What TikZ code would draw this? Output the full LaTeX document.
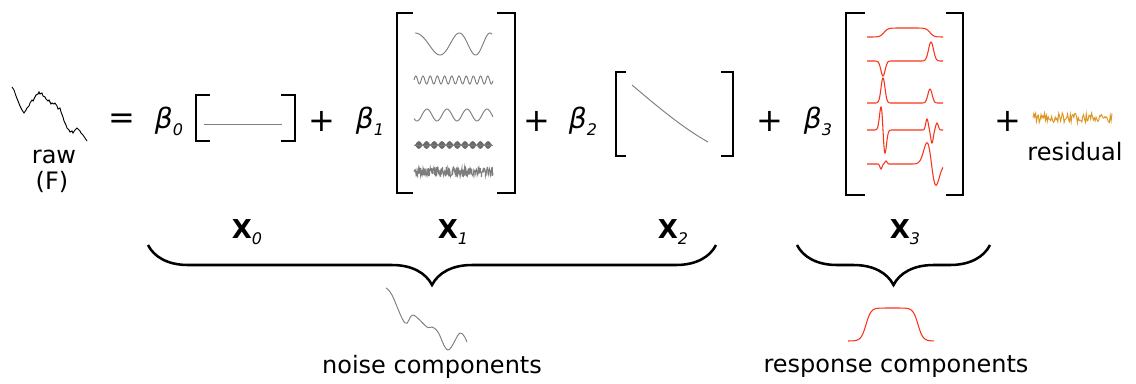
\documentclass[tikz,border=0pt]{standalone}
\usepackage{fontspec}
\setmainfont{DejaVu Sans}
\usepackage{xcolor}
\usetikzlibrary{decorations.pathreplacing}
\definecolor{wavegray}{RGB}{125,125,125}
\definecolor{respred}{RGB}{250,50,25}
\definecolor{residorange}{RGB}{220,150,35}
\newcommand{\subidx}[1]{\raisebox{-0.45ex}{\fontsize{12}{12}\selectfont\mdseries\itshape #1}}

\begin{document}
\begin{tikzpicture}[x=0.75pt,y=-0.75pt,
  txt/.style={font=\fontsize{18}{20}\selectfont},
  oper/.style={font=\fontsize{24}{25}\selectfont},
  coef/.style={font=\fontsize{21}{22}\selectfont\itshape,inner sep=0pt},
  design/.style={font=\fontsize{19.5}{20}\selectfont\bfseries,inner sep=0pt},
  bracket/.style={line width=1.3pt},
  bigbracket/.style={line width=2pt},
  basis/.style={wavegray,line width=0.7pt},
  trace/.style={respred,line width=0.8pt},
  grp/.style={decorate,decoration={brace,mirror,amplitude=30pt},line width=1.9pt},
  declare function={gs(\x,\c,\s)=exp(-min(((\x-\c)/\s)^2,15));
                    sg(\x,\c,\s)=1/(1+exp(-max(min((\x-\c)/\s,9),-9)));}]
 \useasboundingbox (0,0) rectangle (1136,383);

 \draw[line width=0.7pt] (12,87) -- (14,90) -- (16,96) -- (18,101) -- (20,106) -- (22,110) -- (24,113)
   -- (26,110) -- (27,108) -- (29,106) -- (30,103) -- (32,100) -- (33,101) -- (35,97) -- (36,95)
   -- (38,94) -- (39,92) -- (40,94) -- (42,93) -- (43,96) -- (45,97) -- (46,99) -- (48,101)
   -- (49,100) -- (51,104) -- (52,103) -- (54,104) -- (55,103) -- (57,106) -- (58,109) -- (60,108)
   -- (61,112) -- (63,117) -- (64,121) -- (66,125) -- (67,128) -- (69,130) -- (70,132) -- (72,131)
   -- (73,133) -- (75,130) -- (77,128) -- (78,129) -- (80,131) -- (81,133) -- (83,135) -- (85,138) -- (87,141);
 \node[txt] (raw) at (54,157) {raw};
 \node[txt] (rawF) at (52,182) {(F)};

 \node[oper] (eq) at (122,121) {=};
 \node[coef] (b0) at (169,121) {β\subidx{0}};
 \draw[bracket] (210,95) -- (196,95) -- (196,141) -- (210,141);
 \draw[bracket] (281,95) -- (295,95) -- (295,141) -- (281,141);
 \draw[basis] (204,124) -- (282,124);

 \node[oper] (p1) at (322,121) {+};
 \node[coef] (b1) at (370,121) {β\subidx{1}};
 \draw[bigbracket] (413,13) -- (397,13) -- (397,193) -- (413,193);
 \draw[bigbracket] (497,13) -- (515,13) -- (515,193) -- (497,193);
 \draw[basis] plot[domain=415:492,samples=120] (\x,{44-11*cos(6*(\x-415)+0.048*(\x-415)^2)});
 \draw[basis] plot[domain=414:493,samples=200] (\x,{80-4*sin(50*(\x-414))});
 \draw[basis] plot[domain=414:493,samples=150] (\x,{115-6*cos(18*(\x-427))});
 \fill[wavegray!85!black] plot[domain=415:492,samples=150] (\x,{145-3.8*abs(sin(23.4*(\x-415)))})
   -- plot[domain=492:415,samples=150] (\x,{145+3.8*abs(sin(23.4*(\x-415)))}) -- cycle;
 \draw[basis] (414,145) -- (493,145);
 \pgfmathsetseed{11}
 \draw[basis] plot[domain=414:493,samples=220] (\x,{172+5*rand});

 \node[oper] (p2) at (537,121) {+};
 \node[coef] (b2) at (583,121) {β\subidx{2}};
 \draw[bracket] (626,72) -- (616,72) -- (616,156) -- (626,156);
 \draw[bracket] (721,72) -- (733,72) -- (733,156) -- (721,156);
 \draw[basis] (632,85) .. controls (658,107) and (683,128) .. (708,142);

 \node[oper] (p3) at (770,121) {+};
 \node[coef] (b3) at (818,121) {β\subidx{3}};
 \draw[bigbracket] (865,13) -- (846,13) -- (846,195) -- (865,195);
 \draw[bigbracket] (946,13) -- (963,13) -- (963,195) -- (946,195);
 \draw[trace] plot[domain=867:943,samples=150] (\x,{37-9*(sg(\x,884,2)-sg(\x,930,2))});
 \draw[trace] plot[domain=867:943,samples=150] (\x,{61+15*gs(\x,883,3)-19*gs(\x,931,3.5)});
 \draw[trace] plot[domain=867:943,samples=150] (\x,{103-25*gs(\x,883,2.8)-14*gs(\x,930,3)});
 \draw[trace] plot[domain=867:943,samples=200] (\x,{130+38*(\x-883)/2*gs(\x,883,2.83)-11*gs(\x,927,1.8)+13*gs(\x,932,1.8)-7*gs(\x,937,1.8)});
 \draw[trace] plot[domain=867:943,samples=200] (\x,{164+5*gs(\x,881,1.5)-3*gs(\x,886,1.5)+35*(\x-931.5)/4.5*gs(\x,931.5,6.36)});

 \node[oper] (p4) at (1008,121) {+};
 \pgfmathsetseed{5}
 \draw[residorange,line width=0.7pt] plot[domain=1033:1112,samples=90] (\x,{118+5*rand});
 \node[txt] (resid) at (1075,152) {residual};

 \node[design] (X0) at (247,232) {X\subidx{0}};
 \node[design] (X1) at (453,232) {X\subidx{1}};
 \node[design] (X2) at (673,232) {X\subidx{2}};
 \node[design] (X3) at (905,232) {X\subidx{3}};

 \draw[grp] (148,245) -- (716,245);
 \draw[grp] (797,245) -- (990,245);

 \draw[basis] plot[smooth,tension=0.6] coordinates {(386,288) (392,295) (405,323) (413,315) (427,327)
   (432,327) (438,332) (448,350) (460,333) (467,342)};
 \node[txt] (noise) at (432,367) {noise components};

 \draw[trace] plot[domain=848:934,samples=150] (\x,{341-33*(sg(\x,866,2.5)-sg(\x,918,2.5))});
 \node[txt] (response) at (896,367) {response components};
\end{tikzpicture}
\end{document}
